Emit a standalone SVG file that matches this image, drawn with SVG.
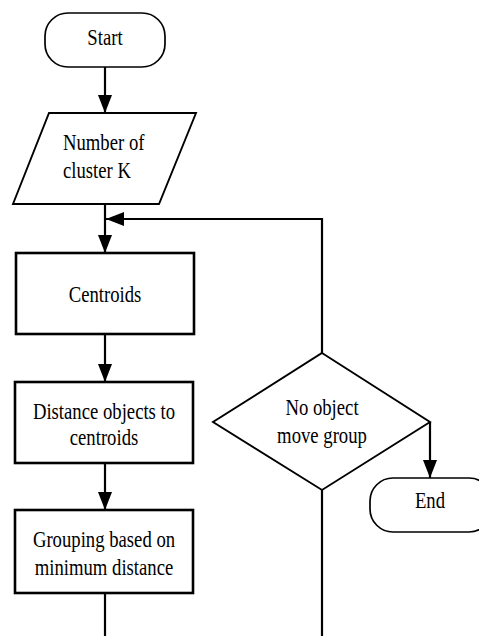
<svg xmlns="http://www.w3.org/2000/svg" width="479" height="636" viewBox="0 0 479 636">
  <style>
    .shape { fill: #ffffff; stroke: #000000; }
    .box { stroke-width: 2.6; }
    .term { stroke-width: 1.7; }
    .io, .dec { stroke-width: 1.9; }
    .lbl { font-size: 18.7px; fill: #000000; }
    .mid { text-anchor: middle; }
    .wire { fill: none; stroke: #000000; stroke-width: 2.2; }
    .arrow { marker-end: url(#head); }
  </style>
  <defs>
    <marker id="head" markerUnits="userSpaceOnUse" markerWidth="18" markerHeight="14" refX="18" refY="7" orient="auto">
      <path d="M0,0 L18,7 L0,14 z" fill="#000000"/>
    </marker>
  </defs>
  <rect width="479" height="636" fill="#ffffff"/>

  <!-- connectors -->
  <g id="connectors">
    <path class="wire arrow" d="M105,67 V113"/>
    <path class="wire arrow" d="M105,204 V253"/>
    <path class="wire arrow" d="M105,334 V382"/>
    <path class="wire arrow" d="M105,463 V510"/>
    <path class="wire" d="M105,593 V640"/>
    <path class="wire" d="M322,490 V640"/>
    <path class="wire arrow" d="M322,353 V219 H106"/>
    <path class="wire arrow" d="M430,422 V478"/>
  </g>

  <g font-family="'Liberation Serif', 'DejaVu Serif', serif">
    <!-- start terminal -->
    <g id="start">
      <rect class="shape term" x="45" y="13" width="120" height="54" rx="23" ry="23"/>
      <g transform="translate(105,45) scale(1,1.18)"><text class="lbl mid" x="0" y="0">Start</text></g>
    </g>

    <!-- input: number of clusters -->
    <g id="input-k">
      <polygon class="shape io" points="49,113 196,113 159,204 13,204"/>
      <g transform="translate(63,150) scale(1,1.18)"><text class="lbl" x="0" y="0">Number of</text></g>
      <g transform="translate(63,178) scale(1,1.18)"><text class="lbl" x="0" y="0">cluster K</text></g>
    </g>

    <!-- centroids -->
    <g id="centroids">
      <rect class="shape box" x="16" y="253" width="178" height="81"/>
      <g transform="translate(105,302) scale(1,1.18)"><text class="lbl mid" x="0" y="0">Centroids</text></g>
    </g>

    <!-- distance to centroids -->
    <g id="distance">
      <rect class="shape box" x="15" y="382" width="178" height="81"/>
      <g transform="translate(104,419) scale(1,1.18)"><text class="lbl mid" x="0" y="0">Distance objects to</text></g>
      <g transform="translate(104,445) scale(1,1.18)"><text class="lbl mid" x="0" y="0">centroids</text></g>
    </g>

    <!-- grouping -->
    <g id="grouping">
      <rect class="shape box" x="15" y="510" width="178" height="83"/>
      <g transform="translate(104,547) scale(1,1.18)"><text class="lbl mid" x="0" y="0">Grouping based on</text></g>
      <g transform="translate(104,575) scale(1,1.18)"><text class="lbl mid" x="0" y="0">minimum distance</text></g>
    </g>

    <!-- decision -->
    <g id="decision">
      <polygon class="shape dec" points="322,353 430,422 322,490 213,422"/>
      <g transform="translate(322,415) scale(1,1.18)"><text class="lbl mid" x="0" y="0">No object</text></g>
      <g transform="translate(322,443) scale(1,1.18)"><text class="lbl mid" x="0" y="0">move group</text></g>
    </g>

    <!-- end terminal -->
    <g id="end">
      <rect class="shape term" x="370" y="478" width="122" height="54" rx="23" ry="23"/>
      <g transform="translate(430,508) scale(1,1.18)"><text class="lbl mid" x="0" y="0">End</text></g>
    </g>
  </g>
</svg>
